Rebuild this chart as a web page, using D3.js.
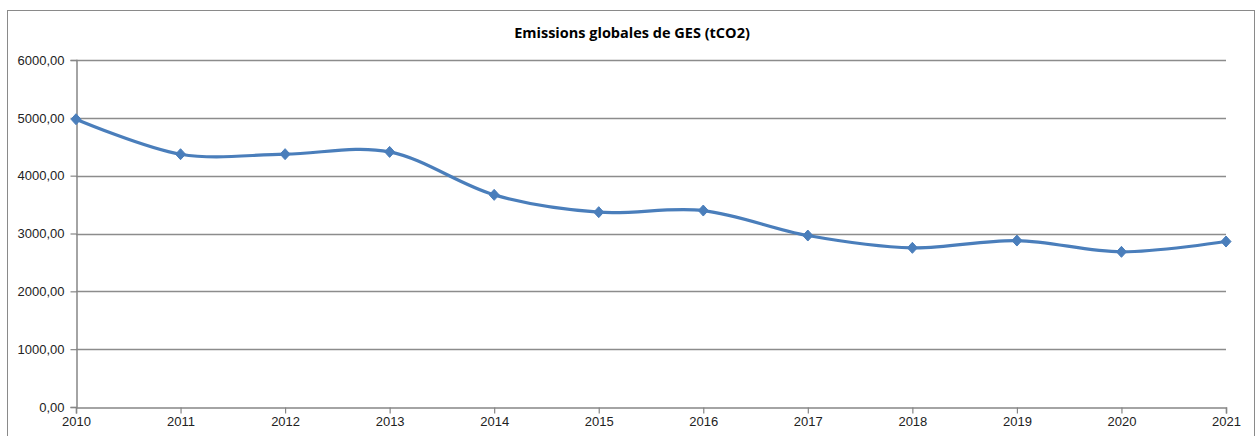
<!DOCTYPE html>
<html>
<head>
<meta charset="utf-8">
<script src="https://cdn.jsdelivr.net/npm/d3@7"></script>
<style>
  body { margin: 0; background: #fff; }
  svg { display: block; font-family: "Open Sans", "Liberation Sans", sans-serif; }
</style>
</head>
<body>
<div id="chart"></div>
<script>
var years = [2010, 2011, 2012, 2013, 2014, 2015, 2016, 2017, 2018, 2019, 2020, 2021];
var emissions = [4976, 4371, 4372, 4411, 3668, 3369, 3397, 2965, 2752, 2878, 2683, 2861];
var yTicks = [0, 1000, 2000, 3000, 4000, 5000, 6000];

var width = 1256,
  height = 436;

var margin = { top: 60, right: 30, bottom: 29, left: 76 };

var svg = d3.select("#chart")
  .append("svg")
  .attr("width", width)
  .attr("height", height);

// outer chart frame
svg.append("rect")
  .attr("x", 7.5)
  .attr("y", 10.5)
  .attr("width", 1247)
  .attr("height", 450)
  .attr("fill", "#fff")
  .attr("stroke", "#8a8a8a")
  .attr("stroke-width", 1);

var x = d3.scaleLinear()
  .domain([2010, 2021])
  .range([margin.left, width - margin.right]);

var y = d3.scaleLinear()
  .domain([0, 6000])
  .range([height - margin.bottom, margin.top]);

var fmt = function (d) { return d3.format(".2f")(d).replace(".", ","); };

// gridlines
svg.append("g")
  .selectAll("line")
  .data(yTicks.filter(function (d) { return d > 0; }))
  .enter().append("line")
  .attr("x1", x(2010))
  .attr("x2", x(2021))
  .attr("y1", function (d) { return Math.round(y(d)) + 0.5; })
  .attr("y2", function (d) { return Math.round(y(d)) + 0.5; })
  .attr("stroke", "#8c8c8c")
  .attr("stroke-width", 1.5);

// y axis
var yAxis = svg.append("g")
  .attr("transform", "translate(" + (x(2010) + 0.5) + ",0)")
  .call(d3.axisLeft(y).tickValues(yTicks).tickFormat(fmt).tickSize(6).tickPadding(6));

// x axis
var xAxis = svg.append("g")
  .attr("transform", "translate(0," + (Math.round(y(0)) + 0.5) + ")")
  .call(d3.axisBottom(x).tickValues(years).tickFormat(d3.format("d")).tickSize(6).tickPadding(3));

[yAxis, xAxis].forEach(function (g) {
  g.selectAll(".domain").attr("stroke", "#868686").attr("stroke-width", 1.5);
  g.selectAll(".tick line").attr("stroke", "#868686").attr("stroke-width", 1.2);
  g.selectAll("text").attr("fill", "#222").style("font-size", "13px");
});

// title
svg.append("text")
  .attr("x", 632)
  .attr("y", 38)
  .attr("text-anchor", "middle")
  .attr("fill", "#000")
  .style("font-size", "14.5px")
  .style("font-weight", "bold")
  .text("Emissions globales de GES (tCO2)");

var data = years.map(function (yr, i) { return { year: yr, value: emissions[i] }; });

var line = d3.line()
  .x(function (d) { return x(d.year); })
  .y(function (d) { return y(d.value); })
  .curve(d3.curveCardinal.tension(0));

svg.append("path")
  .datum(data)
  .attr("d", line)
  .attr("fill", "none")
  .attr("stroke", "#4a7ebb")
  .attr("stroke-width", 3.2)
  .attr("stroke-linejoin", "round");

// diamond markers
svg.append("g")
  .selectAll("path")
  .data(data)
  .enter().append("path")
  .attr("transform", function (d) { return "translate(" + x(d.year) + "," + y(d.value) + ")"; })
  .attr("d", "M0,-5.5L5,0L0,5.5L-5,0Z")
  .attr("fill", "#4a7ebb")
  .attr("stroke", "#4a7ebb")
  .attr("stroke-width", 1);
</script>
</body>
</html>
